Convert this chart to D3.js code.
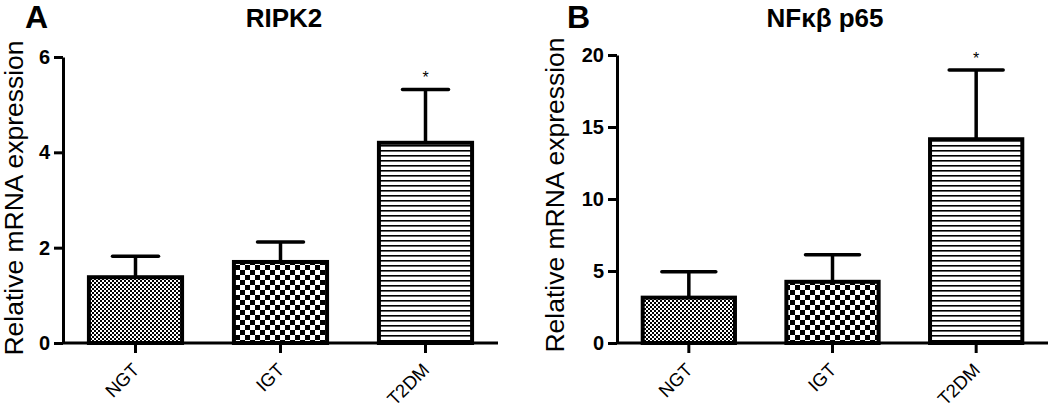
<!DOCTYPE html>
<html>
<head>
<meta charset="utf-8">
<script src="https://cdn.jsdelivr.net/npm/d3@7"></script>
<style>
  html, body { margin: 0; padding: 0; background: #fff; }
  svg { display: block; font-family: "Liberation Sans", Arial, sans-serif; }
</style>
</head>
<body>
<svg id="chart" width="1050" height="412"></svg>
<script>
// ---- data ----
const categories = ["NGT", "IGT", "T2DM"];
const ripk2Means = [1.38, 1.70, 4.20];
const ripk2Upper = [1.82, 2.12, 5.32];
const nfkbMeans = [3.15, 4.25, 14.15];
const nfkbUpper = [4.95, 6.12, 18.95];
const ripk2Ticks = [0, 2, 4, 6];
const nfkbTicks = [0, 5, 10, 15, 20];
const significance = ["", "", "*"];
const patterns = ["fineCheck", "coarseCheck", "hLines"];
const panelLetters = ["A", "B"];
const panelTitles = ["RIPK2", "NFκβ p65"];
const yLabel = "Relative mRNA expression";

const svg = d3.select("#chart");
const defs = svg.append("defs");

// fine checkerboard
const p1 = defs.append("pattern").attr("id", "fineCheck").attr("patternUnits", "userSpaceOnUse")
  .attr("width", 4).attr("height", 4);
p1.append("rect").attr("width", 4).attr("height", 4).attr("fill", "#fff");
p1.append("rect").attr("width", 2).attr("height", 2).attr("fill", "#000");
p1.append("rect").attr("x", 2).attr("y", 2).attr("width", 2).attr("height", 2).attr("fill", "#000");
// coarse checkerboard
const p2 = defs.append("pattern").attr("id", "coarseCheck").attr("patternUnits", "userSpaceOnUse")
  .attr("width", 10).attr("height", 10);
p2.append("rect").attr("width", 10).attr("height", 10).attr("fill", "#fff");
p2.append("rect").attr("width", 5).attr("height", 5).attr("fill", "#000");
p2.append("rect").attr("x", 5).attr("y", 5).attr("width", 5).attr("height", 5).attr("fill", "#000");
// horizontal lines
const p3 = defs.append("pattern").attr("id", "hLines").attr("patternUnits", "userSpaceOnUse")
  .attr("width", 10).attr("height", 5);
p3.append("rect").attr("width", 10).attr("height", 5).attr("fill", "#fff");
p3.append("rect").attr("y", 0).attr("width", 10).attr("height", 1.6).attr("fill", "#000");

function drawPanel(opt) {
  const g = svg.append("g");
  const y = d3.scaleLinear().domain([0, d3.max(opt.ticks)]).range([opt.y0, opt.yTop]);
  const x = d3.scaleBand().domain(categories).range([opt.xLeft, opt.xRight])
    .paddingInner(0.33).paddingOuter(0.165);

  // bars
  g.selectAll("rect.bar").data(categories).enter().append("rect")
    .attr("class", "bar")
    .attr("x", d => x(d) + 2)
    .attr("width", x.bandwidth() - 4)
    .attr("y", (d, i) => y(opt.means[i]))
    .attr("height", (d, i) => y(0) - y(opt.means[i]))
    .attr("fill", (d, i) => `url(#${patterns[i]})`)
    .attr("stroke", "#000").attr("stroke-width", 4);

  // error bars
  const capHalf = opt.capHalf;
  g.selectAll("line.stem").data(categories).enter().append("line")
    .attr("x1", d => x(d) + x.bandwidth() / 2).attr("x2", d => x(d) + x.bandwidth() / 2)
    .attr("y1", (d, i) => y(opt.means[i])).attr("y2", (d, i) => y(opt.upper[i]))
    .attr("stroke", "#000").attr("stroke-width", 3.5);
  g.selectAll("line.cap").data(categories).enter().append("line")
    .attr("x1", d => x(d) + x.bandwidth() / 2 - capHalf).attr("x2", d => x(d) + x.bandwidth() / 2 + capHalf)
    .attr("y1", (d, i) => y(opt.upper[i])).attr("y2", (d, i) => y(opt.upper[i]))
    .attr("stroke", "#000").attr("stroke-width", 3.5).attr("stroke-linecap", "round");

  // significance
  g.selectAll("text.sig").data(categories).enter().append("text")
    .attr("x", d => x(d) + x.bandwidth() / 2)
    .attr("y", (d, i) => y(opt.upper[i]) - 6)
    .attr("text-anchor", "middle").attr("font-size", 16)
    .text((d, i) => significance[i]);

  // y axis
  const ya = g.append("g").attr("transform", `translate(${opt.xLeft},0)`)
    .call(d3.axisLeft(y).tickValues(opt.ticks).tickFormat(d3.format("d"))
      .tickSize(9).tickSizeOuter(0).tickPadding(4));
  ya.selectAll("path, line").attr("stroke", "#000").attr("stroke-width", 3);
  ya.selectAll("text").attr("font-size", 20).attr("font-weight", "bold")
    .attr("font-family", "Liberation Sans, Arial, sans-serif").attr("fill", "#000");

  // x axis
  const xa = g.append("g").attr("transform", `translate(0,${opt.y0})`)
    .call(d3.axisBottom(x).tickSize(10).tickSizeOuter(0));
  xa.select("path.domain").attr("d", `M${opt.xLeft},0H${opt.xRight}`);
  xa.selectAll("path, line").attr("stroke", "#000").attr("stroke-width", 3);
  xa.selectAll("text")
    .attr("x", 0).attr("y", 0).attr("dy", 0)
    .attr("transform", "translate(5,28) rotate(-45)")
    .attr("text-anchor", "end")
    .attr("font-size", 18.5)
    .attr("font-family", "Liberation Sans, Arial, sans-serif").attr("fill", "#000");

  // y label
  g.append("text")
    .attr("transform", `translate(${opt.yLabelX},${opt.yLabelY}) rotate(-90)`)
    .attr("text-anchor", "middle").attr("font-size", 26.5)
    .text(yLabel);

  // title
  g.append("text").attr("x", opt.titleX).attr("y", 27)
    .attr("text-anchor", "middle").attr("font-size", 26).attr("font-weight", "bold")
    .text(opt.title);

  // panel letter
  g.append("text").attr("x", opt.letterX).attr("y", 28)
    .attr("font-size", 32).attr("font-weight", "bold")
    .text(opt.letter);
}

drawPanel({
  means: ripk2Means, upper: ripk2Upper, ticks: ripk2Ticks,
  xLeft: 63, xRight: 498, y0: 343, yTop: 57, capHalf: 23,
  yLabelX: 23, yLabelY: 198, titleX: 284, title: panelTitles[0],
  letterX: 25, letter: panelLetters[0]
});
drawPanel({
  means: nfkbMeans, upper: nfkbUpper, ticks: nfkbTicks,
  xLeft: 617, xRight: 1048, y0: 343, yTop: 55, capHalf: 27,
  yLabelX: 564, yLabelY: 195, titleX: 825, title: panelTitles[1],
  letterX: 567, letter: panelLetters[1]
});
</script>
</body>
</html>
